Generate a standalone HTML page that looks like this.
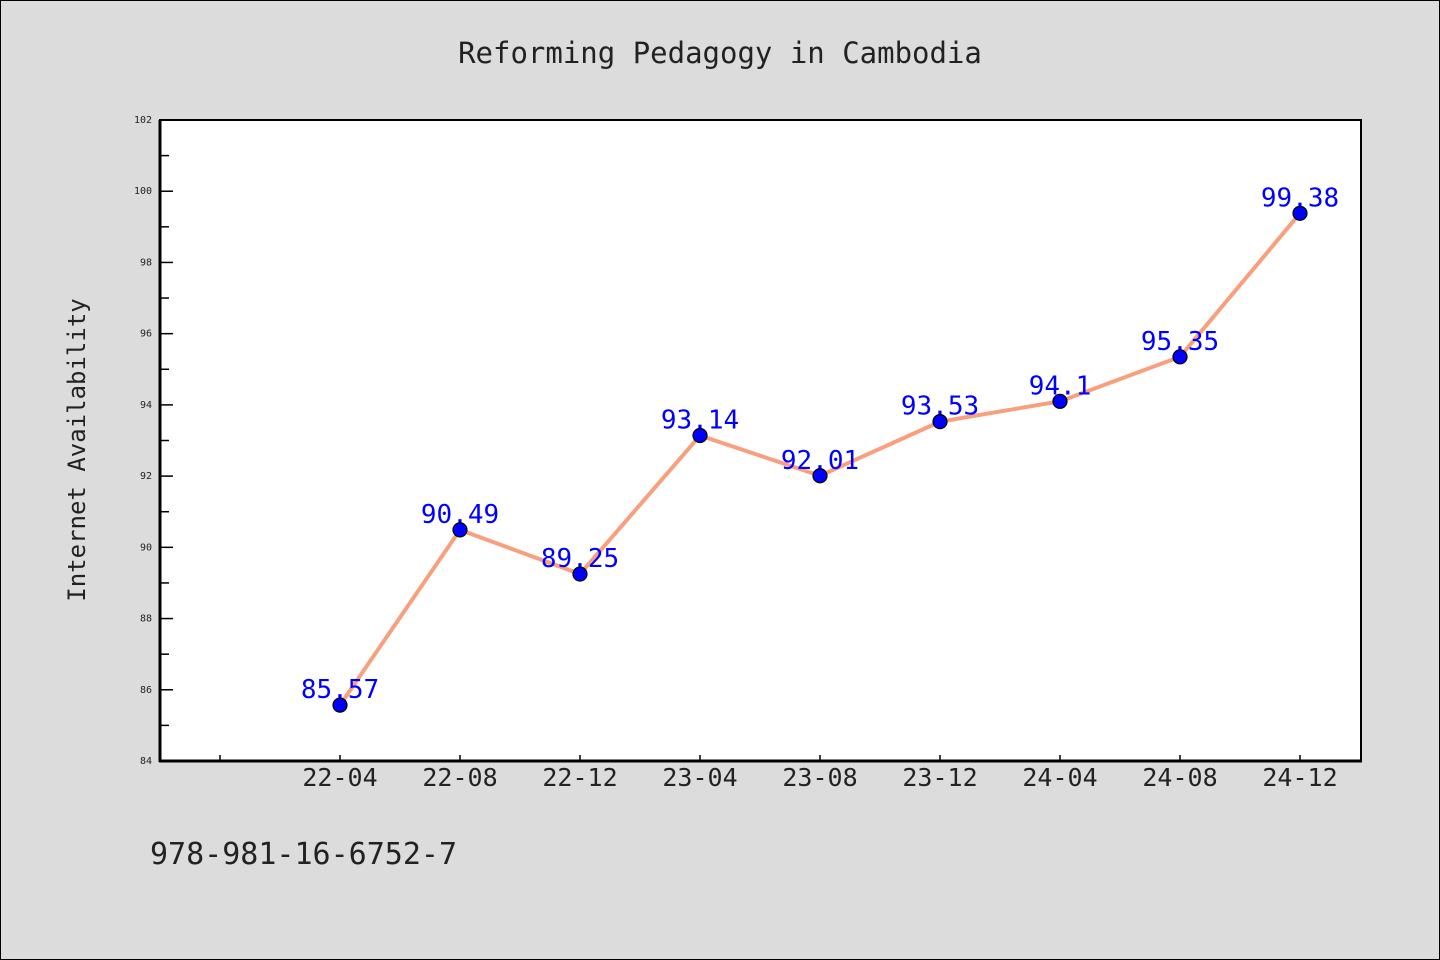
<!DOCTYPE html>
<html><head><meta charset="utf-8"><style>
body{margin:0;background:#dcdcdc;}
svg{display:block;font-family:"DejaVu Sans Mono","WenQuanYi Zen Hei Mono",monospace;}
</style></head><body>
<svg width="1440" height="960">
<rect x="0.5" y="0.5" width="1439" height="959" fill="#dcdcdc" stroke="#000"/>
<text x="720" y="63" font-size="29" text-anchor="middle" fill="#222">Reforming Pedagogy in Cambodia</text>
<rect x="160" y="120" width="1201" height="641" fill="#fff" stroke="#000" stroke-width="2"/>
<line x1="160" y1="120" x2="160" y2="762" stroke="#000" stroke-width="3"/>
<line x1="159" y1="761" x2="1362" y2="761" stroke="#000" stroke-width="3"/>
<text transform="translate(85,450) rotate(-90)" font-size="24" text-anchor="middle" fill="#222">Internet Availability</text>
<text x="150" y="864" font-size="30" fill="#222">978-981-16-6752-7</text>
<g id="ticks"></g><g id="series"></g>
</svg>
<script>
const categories=["22-04","22-08","22-12","23-04","23-08","23-12","24-04","24-08","24-12"];
const values=[85.57,90.49,89.25,93.14,92.01,93.53,94.1,95.35,99.38];
const labels=["85.57","90.49","89.25","93.14","92.01","93.53","94.1","95.35","99.38"];
const yTicks=[84,86,88,90,92,94,96,98,100,102];
const NS="http://www.w3.org/2000/svg";
const yMin=84,yMax=102,plotTop=120,plotBot=761;
function yScale(v){return plotBot-(v-yMin)/(yMax-yMin)*(plotBot-plotTop);}
function xScale(i){return 340+120*i;}
function mk(t,a,p){const e=document.createElementNS(NS,t);for(const k in a)e.setAttribute(k,a[k]);p.appendChild(e);return e;}
const tg=document.getElementById('ticks'),sg=document.getElementById('series');
for(let v=yMin;v<=yMax;v++){
  const major=yTicks.includes(v);
  const l=mk('line',{x1:160,x2:major?173:169,y1:yScale(v),y2:yScale(v),stroke:'#000','stroke-width':1.5},tg);
  
  
}
yTicks.forEach(v=>{
  const t=mk('text',{x:152,y:yScale(v)+3,'font-size':10,'text-anchor':'end',fill:'#222'},tg);
  t.textContent=v;
  
  
});
const tk=mk('line',{x1:220,x2:220,y1:761,y2:755,stroke:'#000','stroke-width':1.5},tg);


categories.forEach((c,i)=>{
  const l=mk('line',{x1:xScale(i),x2:xScale(i),y1:761,y2:755,stroke:'#000','stroke-width':1.5},tg);
  
  
  const t=mk('text',{x:xScale(i),y:786,'font-size':25,'text-anchor':'middle',fill:'#222'},tg);
  t.textContent=c;
  
  
});
const line=mk('polyline',{points:values.map((v,i)=>xScale(i)+','+yScale(v)).join(' '),fill:'none',stroke:'#f8a07e','stroke-width':4},sg);


values.forEach((v,i)=>{
  const t=mk('text',{x:xScale(i),y:yScale(v)-7,'font-size':26,'text-anchor':'middle',fill:'#0000ff'},sg);
  t.textContent=labels[i];
  
  
});
values.forEach((v,i)=>{
  const c=mk('circle',{cx:xScale(i),cy:yScale(v),r:7,fill:'#0000ff',stroke:'#000','stroke-width':1.2},sg);
  
  
});
</script>
</body></html>
